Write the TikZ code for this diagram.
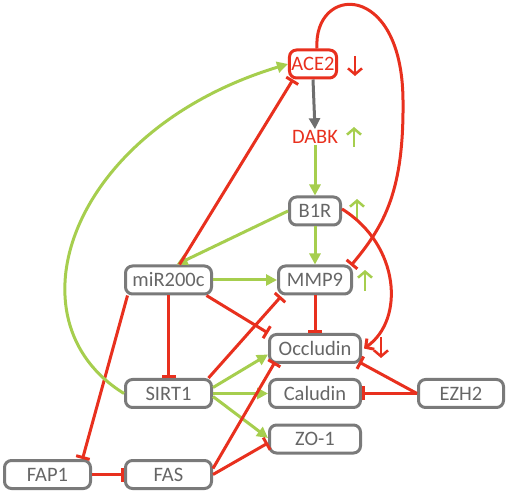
\documentclass[tikz,border=0pt]{standalone}
\usepackage{fontspec}
\setmainfont{Carlito}
\usetikzlibrary{arrows.meta}
\definecolor{ired}{HTML}{E8301E}
\definecolor{lgreen}{HTML}{A6CE4E}
\definecolor{boxgray}{HTML}{7A7A7A}
\definecolor{txtgray}{HTML}{666666}
\definecolor{agray}{HTML}{6E6E6E}
\tikzset{
  box/.style={draw=boxgray, line width=3pt, rounded corners=7pt, text=txtgray,
    minimum height=28pt, inner sep=2pt, font=\fontsize{20.5}{24}\selectfont},
  act/.style={draw=lgreen, line width=3pt, -{Triangle[length=11pt,width=11pt]}},
  inh/.style={draw=ired, line width=3pt, -{Bar[width=14pt]}},
  redarr/.style={draw=ired, line width=3pt, -{Straight Barb[length=6pt,width=13pt]}},
  grayarr/.style={draw=agray, line width=3pt, -{Triangle[length=11pt,width=11pt]}},
  updn/.style={line width=2.5pt, -{Straight Barb[length=6pt,width=14pt]}},
}
\begin{document}
\begin{tikzpicture}[x=1pt,y=-1pt]
\useasboundingbox (0,0) rectangle (512,497);
% nodes
\node[box, draw=ired, text=ired, minimum width=47pt] (ACE2) at (313,64) {ACE2};
\node[text=ired, inner sep=1pt, font=\fontsize{20.5}{24}\selectfont] (DABK) at (315,137) {DABK};
\node[box, minimum width=51pt] (B1R) at (315,211) {B1R};
\node[box, minimum width=73pt] (MMP9) at (315,280) {MMP9};
\node[box, minimum width=86pt] (miR) at (168.5,280) {miR200c};
\node[box, minimum width=91pt] (Occ) at (315,348.5) {Occludin};
\node[box, minimum width=86pt] (SIRT1) at (168.5,393.5) {SIRT1};
\node[box, minimum width=91pt] (Cal) at (315,393.5) {Caludin};
\node[box, minimum width=85pt] (EZH2) at (461,393.5) {EZH2};
\node[box, minimum width=91pt] (ZO1) at (315,439) {ZO-1};
\node[box, minimum width=86pt] (FAP1) at (47.5,474.5) {FAP1};
\node[box, minimum width=86pt] (FAS) at (168.5,474.5) {FAS};
% up/down markers
\draw[updn, ired] (355,56) -- (355,76);
\draw[updn, lgreen] (354,147) -- (354,127);
\draw[updn, lgreen] (357,219) -- (357,199);
\draw[updn, lgreen] (365,291) -- (365,270);
\draw[updn, ired] (381,337) -- (381,358);
% edges
\draw[grayarr] (ACE2.south) -- (DABK.north);
\draw[act] (DABK.south) -- (B1R.north);
\draw[act] (B1R.south) -- (MMP9.north);
\draw[act] (B1R.west) -- ([xshift=8pt]miR.north);
\draw[act] (miR.east) -- (MMP9.west);
\draw[inh] ([xshift=11pt]miR.north) -- ([xshift=-20pt]ACE2.south);
\draw[inh] (miR.south) -- (SIRT1.north);
\draw[inh] ([xshift=38pt]miR.south) -- (Occ.north west);
\draw[inh] ([xshift=-41pt]miR.south) -- ([xshift=35pt]FAP1.north);
\draw[act] (SIRT1.west) .. controls (5,320) and (70,130) .. (ACE2.west);
\draw[inh] ([xshift=40pt]SIRT1.north) -- ([xshift=-34pt,yshift=-1pt]MMP9.south);
\draw[act] ([yshift=6pt]SIRT1.east) -- ([yshift=-6pt]Occ.west);
\draw[act] (SIRT1.east) -- (Cal.west);
\draw[act] ([yshift=-3pt]SIRT1.east) -- ([yshift=1pt]ZO1.west);
\draw[inh] ([yshift=6pt]FAS.east) -- ([xshift=-40pt,yshift=2pt]Occ.south);
\draw[inh] (FAS.east) -- ([yshift=-4pt]ZO1.west);
\draw[inh] (FAP1.east) -- (FAS.west);
\draw[inh] (MMP9.south) -- (Occ.north);
\draw[inh] (EZH2.west) -- (Cal.east);
\draw[inh] (EZH2.west) -- ([xshift=-3pt,yshift=2pt]Occ.south east);
\draw[inh] ([xshift=4pt]ACE2.north) .. controls (313,-15) and (402,-20) .. (403,100)
   .. controls (404,190) and (385,225) .. ([xshift=-2pt,yshift=-1pt]MMP9.north east);
\draw[redarr] ([yshift=2pt]B1R.east) .. controls (400,245) and (405,320) .. ([xshift=2pt]Occ.east);
\end{tikzpicture}
\end{document}
